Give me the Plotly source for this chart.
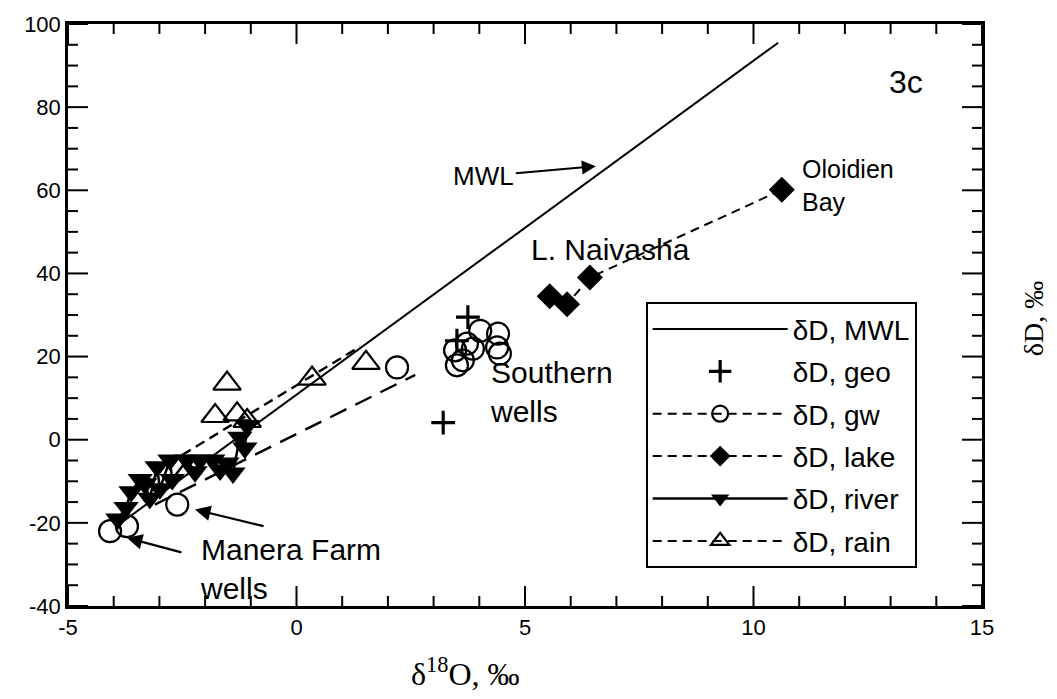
import plotly.graph_objects as go

# ---------------- data ----------------
mwl_x = [-3.9, 10.54]
mwl_y = [-20.5, 95.5]

geo_x = [3.75, 3.51, 3.21]
geo_y = [29.5, 23.8, 4.1]

gw_x = [-4.08, -3.71, -2.61, 2.20, 3.51, 3.47, 3.73, 3.64, 4.02, 4.41, 4.39, 3.86, 4.45]
gw_y = [-22.0, -20.8, -15.6, 17.4, 17.9, 21.5, 23.1, 19.1, 26.2, 25.5, 22.2, 21.9, 20.7]
gw_trend_x = [-3.1, 2.6]
gw_trend_y = [-15.6, 15.6]

lake_x = [5.54, 5.92, 6.42, 10.62]
lake_y = [34.5, 32.6, 39.0, 60.1]

river_x = [-3.91, -3.73, -3.62, -3.42, -3.32, -3.21, -3.05, -2.99, -2.77, -2.72,
           -2.40, -2.22, -2.11, -1.83, -1.67, -1.52, -1.39, -1.24, -1.13, -1.08]
river_y = [-19.1, -16.3, -12.5, -9.6, -10.6, -14.1, -6.5, -11.8, -4.9, -9.6,
           -4.9, -7.7, -4.9, -4.9, -7.3, -5.6, -8.0, 0.6, -2.0, 3.4]

rain_x = [-1.52, -1.78, -1.30, -1.08, 0.34, 1.52]
rain_y = [13.5, 5.7, 6.1, 4.5, 14.7, 18.5]
rain_trend_x = [-3.1, 1.39]
rain_trend_y = [-7.7, 22.4]

x_range = [-5, 15]
y_range = [-40, 100]
x_major_ticks = [-5, 0, 5, 10, 15]
y_major_ticks = [-40, -20, 0, 20, 40, 60, 80, 100]
x_minor_step = 1
y_minor_step = 5


def gapped(vals):
    out = []
    for v in vals:
        out += [v, None]
    return out[:-1]


SANS = "Liberation Sans, Arial, sans-serif"
SERIF = "Liberation Serif, Times New Roman, serif"
K = "#000000"

fig = go.Figure()

fig.add_trace(go.Scatter(x=mwl_x, y=mwl_y, mode="lines", name="δD, MWL",
                         legendgroup="a", line=dict(color=K, width=2)))
fig.add_trace(go.Scatter(x=geo_x, y=geo_y, mode="markers", name="δD, geo",
                         legendgroup="b",
                         marker=dict(symbol="cross-thin", size=17, color=K,
                                     line=dict(color=K, width=3.2))))
fig.add_trace(go.Scatter(x=gw_trend_x, y=gw_trend_y, mode="lines", showlegend=False,
                         line=dict(color=K, width=2.4, dash="18px,10px")))
fig.add_trace(go.Scatter(x=gapped(gw_x), y=gapped(gw_y), mode="lines+markers",
                         name="δD, gw", legendgroup="c", connectgaps=False,
                         line=dict(color=K, width=2, dash="9px,6px"),
                         marker=dict(symbol="circle-open", size=22, color=K,
                                     line=dict(color=K, width=2.2))))
fig.add_trace(go.Scatter(x=lake_x, y=lake_y, mode="lines+markers", name="δD, lake",
                         legendgroup="d",
                         line=dict(color=K, width=2, dash="9px,6px"),
                         marker=dict(symbol="diamond", size=20, color=K)))
fig.add_trace(go.Scatter(x=river_x, y=river_y, mode="lines+markers", name="δD, river",
                         legendgroup="e",
                         line=dict(color=K, width=2.5),
                         marker=dict(symbol="triangle-down", size=22, color=K)))
fig.add_trace(go.Scatter(x=rain_trend_x, y=rain_trend_y, mode="lines", showlegend=False,
                         line=dict(color=K, width=2.4, dash="10px,6px")))
fig.add_trace(go.Scatter(x=gapped(rain_x), y=gapped(rain_y), mode="lines+markers",
                         name="δD, rain", legendgroup="f", connectgaps=False,
                         line=dict(color=K, width=2, dash="9px,6px"),
                         marker=dict(symbol="triangle-up-open", size=24, color=K,
                                     line=dict(color=K, width=2.2))))

main_common = dict(showline=True, linecolor=K, linewidth=2.5, mirror=True,
                   ticks="", showgrid=False, zeroline=False, tickmode="array",
                   tickfont=dict(family=SANS, size=22, color=K))

fig.update_layout(
    xaxis=dict(range=x_range, tickvals=x_major_ticks,
               ticktext=[str(v) for v in x_major_ticks], **main_common),
    yaxis=dict(range=y_range, tickvals=y_major_ticks,
               ticktext=[str(v) for v in y_major_ticks], **main_common),
)

# inside tick marks on all four sides (major long, minor short)
MAJ, MIN = 20, 10


def steps(lo, hi, step):
    vals, v = [], lo
    while v <= hi + 1e-9:
        vals.append(round(v, 6))
        v += step
    return vals


for v in steps(x_range[0], x_range[1], x_minor_step):
    L = MAJ if v in x_major_ticks else MIN
    for anchor, sign in ((0, 1), (1, -1)):
        fig.add_shape(type="line", xref="x", yref="paper", ysizemode="pixel",
                      yanchor=anchor, x0=v, x1=v, y0=0, y1=sign * L,
                      line=dict(color=K, width=2))
for v in steps(y_range[0], y_range[1], y_minor_step):
    L = MAJ if v in y_major_ticks else MIN
    for anchor, sign in ((0, 1), (1, -1)):
        fig.add_shape(type="line", xref="paper", yref="y", xsizemode="pixel",
                      xanchor=anchor, y0=v, y1=v, x0=0, x1=sign * L,
                      line=dict(color=K, width=2))

annotations = [
    dict(x=13.34, y=86, text="3c", showarrow=False, font=dict(family=SANS, size=32, color=K)),
    dict(x=6.55, y=65.8, ax=-112, ay=10, text="MWL", showarrow=True,
         arrowhead=2, arrowsize=1.4, arrowwidth=2, arrowcolor=K,
         font=dict(family=SANS, size=26, color=K)),
    dict(x=11.02, y=61.1, text="Oloidien<br>Bay", showarrow=False, xanchor="left",
         align="left", font=dict(family=SANS, size=25, color=K)),
    dict(x=6.86, y=45.7, text="L. Naivasha", showarrow=False,
         font=dict(family=SANS, size=30, color=K)),
    dict(x=4.19, y=11.5, text="Southern<br>wells", showarrow=False, xanchor="left",
         align="left", font=dict(family=SANS, size=30, color=K)),
    dict(x=-2.16, y=-31, text="Manera Farm<br>wells", showarrow=False, xanchor="left",
         align="left", font=dict(family=SANS, size=30, color=K)),
    dict(x=-2.22, y=-16.8, ax=70, ay=17, text="", showarrow=True,
         arrowhead=2, arrowsize=1.4, arrowwidth=2.2, arrowcolor=K),
    dict(x=-3.71, y=-23.6, ax=56, ay=15, text="", showarrow=True,
         arrowhead=2, arrowsize=1.4, arrowwidth=2.2, arrowcolor=K),
    dict(x=0.435, y=-0.113, xref="paper", yref="paper", text="δ<sup>18</sup>O, ‰",
         showarrow=False, xanchor="center", yanchor="middle",
         font=dict(family=SERIF, size=32, color=K)),
    dict(x=1.056, y=0.493, xref="paper", yref="paper", text="δD, ‰", textangle=-90,
         showarrow=False, xanchor="center", yanchor="middle",
         font=dict(family=SERIF, size=28, color=K)),
]
for a in annotations:
    a.setdefault("xref", "x")
    a.setdefault("yref", "y")
    fig.add_annotation(**a)

fig.update_layout(
    width=1057, height=699,
    margin=dict(l=68, r=75, t=16, b=93),
    paper_bgcolor="white", plot_bgcolor="white",
    showlegend=True,
    legend=dict(x=0.632, y=0.522, xanchor="left", yanchor="top",
                bgcolor="white", bordercolor=K, borderwidth=2,
                font=dict(family=SANS, size=28, color=K),
                tracegroupgap=3, itemwidth=135),
)

fig.write_html("out.html")
